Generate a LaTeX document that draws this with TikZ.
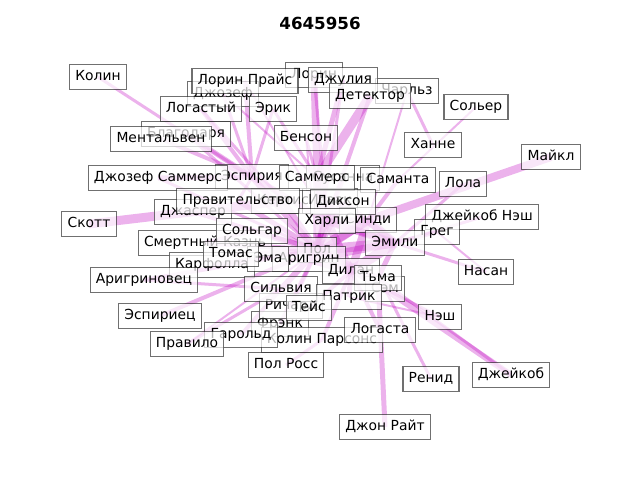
\documentclass[tikz,border=0pt]{standalone}
\usepackage{fontspec}
\setmainfont{DejaVu Sans}
\usetikzlibrary{backgrounds}
\definecolor{mag}{rgb}{0.75,0,0.75}
\tikzset{
  lbl/.style={draw=black!80, draw opacity=0.7, fill=white, fill opacity=0.7, text opacity=1,
    line width=0.8pt, inner xsep=4.3pt, inner ysep=4pt, text height=8pt, text depth=2.3pt,
    font=\fontsize{10.4}{12.5}\selectfont},
  link/.style={line width=#1*0.75pt, draw=mag, draw opacity=0.3},
}
\begin{document}
\begin{tikzpicture}[x=0.75pt,y=-0.75pt]
\useasboundingbox (0,0) rectangle (640,480);
\node[font=\fontsize{12.5}{15}\selectfont\bfseries] (title) at (320,23) {4645956};
% labels, lowest first
\foreach \n/\x/\y/\t in {
  lorin/314/75/Лорин, dzhozef/223/94/Джозеф, charlz/407/91/Чарльз,
  blagodarya/186/134/Благодаря, kertis/283/201/Кертис, dzhasper/193/212/Джаспер,
  susanna/343/178/Сусанна, espiriya/252/177/Эспирия, isaak/330/201/Исаак,
  pol/317/250/Пол, sem/385/289/Сэм, smertniy/205/243/Смертный Казнь,
  karfolla/212/265/Карфолла, aringrin/309/259/Аригрин, ema/268/259/Эма,
  frenk/280/324/Фрэнк, kolinparsons/322/340/Колин Парсонс, richard/291/306/Ричард,
  dilan/351/271/Дилан, sindi/368/220/Синди,
  kolin/98/77/Колин, lorinprice/245/81/Лорин Прайс, julia/343/80/Джулия,
  detektor/370/96/Детектор, logastiy/201/109/Логастый, erik/273/109/Эрик,
  soler/476/107/Сольер, mentalven/161/139/Ментальвен, benson/306/138/Бенсон,
  hanne/433/145/Ханне, maykl/551/157/Майкл, dzhozefsammers/158/178/Джозеф Саммерс,
  sammers/317/178/Саммерс, samanta/398/180/Саманта, lola/463/184/Лола,
  pravitelstvo/238/201/Правительство, dikson/343/202/Диксон, skott/89/224/Скотт,
  harli/327/221/Харли, dzheykobnesh/482/217/Джейкоб Нэш, greg/437/232/Грег,
  emili/395/243/Эмили, solgar/252/231/Сольгар, tomas/231/254/Томас,
  aringrinovets/144/280/Аригриновец, tma/378/278/Тьма, silviya/281/289/Сильвия,
  patrik/349/297/Патрик, espiriets/160/316/Эспириец, teys/309/308/Тейс,
  logasta/380/330/Логаста, harold/241/335/Гарольд, pravilo/187/344/Правило,
  nesh/440/317/Нэш, nasan/486/272/Насан, polross/286/365/Пол Росс,
  renid/431/379/Ренид, dzheykob/511/375/Джейкоб, dzhonrayt/385/427/Джон Райт}
  \node[lbl] (\n) at (\x,\y) {\t};
\begin{pgfonlayer}{background}
\foreach \a/\b/\w in {
  kolin/espiriya/3, lorinprice/espiriya/4, lorinprice/harli/2, dzhozef/espiriya/3,
  dzhozef/sammers/2, logastiy/espiriya/4, logastiy/kertis/3, erik/sammers/3,
  erik/espiriya/3, mentalven/espiriya/4, blagodarya/espiriya/5, blagodarya/pol/3,
  lorin/sammers/7, lorin/harli/3, julia/sammers/5, julia/pol/3, detektor/sammers/9,
  detektor/harli/4, charlz/hanne/3, charlz/sindi/2, benson/sammers/3, benson/pol/2,
  soler/samanta/2, maykl/sindi/8, lola/emili/3, samanta/sindi/4,
  dzhozefsammers/espiriya/5, dzhozefsammers/pol/3, skott/kertis/9, dzhasper/pol/4,
  pravitelstvo/pol/5, pravitelstvo/espiriya/3, dzheykobnesh/emili/3, greg/emili/4,
  nasan/emili/3, nasan/greg/2, smertniy/pol/5, smertniy/solgar/4, karfolla/pol/4,
  tomas/pol/4, aringrinovets/pol/4, aringrinovets/silviya/3, espiriets/pol/4,
  pravilo/silviya/3, pravilo/pol/2, harold/silviya/4, frenk/pol/4,
  polross/kolinparsons/3, kolinparsons/dilan/4, logasta/dilan/4, dzhonrayt/tma/5,
  nesh/sem/3, nesh/patrik/2, renid/sem/3, dzheykob/sem/6, dzheykob/tma/3,
  teys/dilan/4, richard/pol/4, patrik/dilan/5, sem/dilan/5, silviya/pol/6,
  harli/pol/8, harli/emili/8, sindi/dilan/8, pol/dilan/10, emili/pol/10,
  emili/dilan/10, dikson/pol/6, dikson/harli/5, sammers/pol/8, sammers/harli/8,
  espiriya/pol/6, espiriya/harli/6, solgar/pol/6, kertis/pol/6, aringrin/dilan/8,
  aringrin/harli/6, sindi/pol/10, sindi/emili/8, tma/emili/5, susanna/harli/5,
  isaak/pol/5, emili/aringrin/8, sindi/harli/6, dikson/emili/6, dilan/harli/8,
  pol/tma/6, sindi/aringrin/8, emili/harli/6}
  \draw[link=\w] (\a.center) -- (\b.center);
\end{pgfonlayer}
\end{tikzpicture}
\end{document}
